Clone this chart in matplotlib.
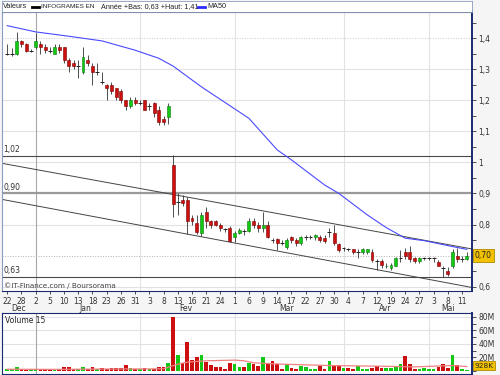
import numpy as np
import matplotlib
matplotlib.use("Agg")
import matplotlib.pyplot as plt
import matplotlib.transforms as mtransforms

plt.rcParams['font.family'] = ['DejaVu Sans']

# ---- donnees (index = seance) ----
opens = [1.35, 1.35, 1.35, 1.39, 1.38, 1.36, 1.37, 1.38, 1.37, 1.36,
         1.35, 1.37, 1.37, 1.33, 1.32, 1.31, 1.29, 1.33, 1.31, 1.29,
         1.26, 1.25, 1.25, 1.24, 1.23, 1.20, 1.18, 1.20, 1.19, 1.20,
         1.18, 1.19, 1.17, 1.14, 1.147, 0.99, 0.873, 0.88, 0.88, 0.82,
         0.805, 0.772, 0.84, 0.81, 0.81, 0.80, 0.785, 0.79, 0.761, 0.772,
         0.78, 0.78, 0.81, 0.80, 0.79, 0.80, 0.75, 0.752, 0.74, 0.729,
         0.759, 0.75, 0.74, 0.759, 0.759, 0.759, 0.759, 0.756, 0.775, 0.772,
         0.737, 0.723, 0.72, 0.72, 0.711, 0.711, 0.711, 0.711, 0.681, 0.681,
         0.665, 0.66, 0.668, 0.691, 0.711, 0.711, 0.691, 0.684, 0.691, 0.691,
         0.691, 0.678, 0.659, 0.65, 0.668, 0.70, 0.69, 0.689]
highs = [1.38, 1.367, 1.42, 1.395, 1.385, 1.365, 1.415, 1.39, 1.38, 1.37,
         1.38, 1.38, 1.372, 1.335, 1.33, 1.33, 1.372, 1.345, 1.32, 1.32,
         1.29, 1.252, 1.26, 1.24, 1.235, 1.20, 1.21, 1.21, 1.20, 1.20,
         1.19, 1.195, 1.18, 1.15, 1.19, 1.025, 0.90, 0.895, 0.89, 0.83,
         0.83, 0.84, 0.855, 0.815, 0.815, 0.805, 0.79, 0.795, 0.78, 0.79,
         0.785, 0.82, 0.82, 0.808, 0.84, 0.81, 0.755, 0.757, 0.75, 0.757,
         0.762, 0.758, 0.762, 0.765, 0.765, 0.77, 0.765, 0.765, 0.79, 0.80,
         0.74, 0.728, 0.725, 0.722, 0.72, 0.725, 0.722, 0.72, 0.69, 0.69,
         0.675, 0.675, 0.695, 0.718, 0.725, 0.73, 0.695, 0.695, 0.697, 0.697,
         0.697, 0.685, 0.668, 0.662, 0.72, 0.725, 0.70, 0.71]
lows = [1.345, 1.342, 1.345, 1.37, 1.355, 1.355, 1.365, 1.35, 1.351, 1.351,
        1.348, 1.351, 1.32, 1.29, 1.30, 1.27, 1.285, 1.31, 1.25, 1.28,
        1.252, 1.20, 1.22, 1.20, 1.19, 1.17, 1.175, 1.185, 1.185, 1.168,
        1.17, 1.147, 1.12, 1.12, 1.123, 0.825, 0.83, 0.86, 0.77, 0.80,
        0.77, 0.763, 0.79, 0.79, 0.795, 0.78, 0.775, 0.745, 0.745, 0.768,
        0.765, 0.775, 0.79, 0.775, 0.775, 0.755, 0.74, 0.718, 0.735, 0.72,
        0.742, 0.73, 0.735, 0.75, 0.752, 0.75, 0.745, 0.74, 0.76, 0.734,
        0.71, 0.715, 0.715, 0.705, 0.691, 0.705, 0.705, 0.68, 0.654, 0.66,
        0.66, 0.655, 0.665, 0.68, 0.69, 0.68, 0.675, 0.675, 0.685, 0.685,
        0.68, 0.665, 0.632, 0.635, 0.66, 0.68, 0.68, 0.685]
closes = [1.35, 1.35, 1.39, 1.38, 1.36, 1.36, 1.39, 1.372, 1.361, 1.36,
          1.37, 1.361, 1.33, 1.31, 1.31, 1.31, 1.34, 1.32, 1.29, 1.29,
          1.26, 1.24, 1.23, 1.21, 1.20, 1.18, 1.20, 1.19, 1.19, 1.17,
          1.18, 1.16, 1.13, 1.13, 1.18, 0.865, 0.873, 0.87, 0.81, 0.81,
          0.777, 0.831, 0.81, 0.80, 0.80, 0.79, 0.785, 0.748, 0.772, 0.783,
          0.78, 0.81, 0.80, 0.79, 0.80, 0.76, 0.75, 0.742, 0.74, 0.75,
          0.75, 0.742, 0.759, 0.759, 0.759, 0.766, 0.75, 0.747, 0.775, 0.74,
          0.718, 0.723, 0.72, 0.711, 0.711, 0.72, 0.72, 0.686, 0.681, 0.67,
          0.668, 0.67, 0.691, 0.691, 0.70, 0.689, 0.681, 0.691, 0.691, 0.691,
          0.691, 0.668, 0.659, 0.64, 0.711, 0.689, 0.69, 0.70]
volumes = [2.2, 2.2, 5.2, 3.0, 1.2, 2.2, 2.2, 2.2, 2.2, 2.2,
           2.2, 1.2, 5.2, 5.2, 2.2, 3.2, 6.1, 2.2, 5.2, 2.2,
           3.7, 2.2, 4.2, 4.2, 4.2, 9.1, 3.7, 2.2, 2.2, 3.7,
           3.2, 2.2, 5.2, 6.1, 11.1, 79, 23, 11, 43, 16,
           21, 23, 13, 9.1, 6, 5.2, 3.2, 11, 10.5, 6,
           5.2, 11, 10, 7.1, 20, 12, 14.5, 10.5, 3.2, 10,
           4.2, 3, 7.5, 6, 3.2, 3.2, 7, 3.2, 14.5, 6.6,
           8, 5, 4, 3, 8, 2.2, 3.2, 4, 7, 5,
           5, 5, 6, 10, 22, 10.5, 3.2, 3, 3.7, 2.2,
           2.2, 5.6, 10, 5, 23, 9, 3, 0.93]

# moyenne mobile 50 (points lus le long de la courbe bleue)
ma50_idx = [0, 6, 13, 20, 27, 32, 35, 41, 51, 57, 60, 67, 70, 76, 80, 84, 88, 94, 97]
ma50_val = [1.44, 1.42, 1.406, 1.391, 1.361, 1.335, 1.31, 1.243, 1.142, 1.04,
            1.008, 0.927, 0.90, 0.831, 0.79, 0.756, 0.748, 0.729, 0.72]

# moyenne du volume sur 15 seances (courbe rouge du bas)
vma_idx = [0, 10, 20, 30, 33, 36, 38, 42, 48, 50, 52, 58, 68, 79, 86, 94, 97]
vma_val = [2.5, 2.3, 2.8, 3.0, 3.2, 10, 13, 15, 16, 15, 12, 10, 8, 7, 6, 8, 6.5]

# canal baissier et niveaux horizontaux
chan_idx = [-1.5, 98.2]
chan_up = [0.998, 0.721]
chan_low = [0.882, 0.597]
levels = [1.02, 0.90, 0.63]
level_labels = ['1,02', '0,90', '0,63']

date_labels = ['22', '28', '2', '5', '10', '13', '18', '23', '26', '31', '3', '8', '13',
               '16', '21', '24', '1', '6', '9', '14', '17', '22', '27', '30', '4', '7',
               '12', '19', '24', '27', '3', '8', '11']
months = ['Dec', 'Jan', 'Fev', 'Mar', 'Avr', 'Mai']
month_mid = [2.3, 16.5, 37.6, 59, 79.7, 93]
month_start = [6, 28, 48, 71, 89]

n = len(closes)
x = np.arange(n)
o = np.array(opens); c = np.array(closes)
h = np.array(highs); l = np.array(lows)

UP, DOWN = '#12c812', '#cc1010'
up = c > o
flat = np.isclose(c, o)
prev = np.r_[c[0], c[:-1]]
up_vol = np.where(flat, c >= prev, up)

NAVY = '#1b2a6e'
W, H = 500, 375


def px(x0, y0, x1, y1):
    return [x0 / W, 1 - y1 / H, (x1 - x0) / W, (y1 - y0) / H]


fig = plt.figure(figsize=(5, 3.75), dpi=100, facecolor='#f5f5f5')

# ---- panneau principal ----
ax = fig.add_axes(px(2, 12, 472, 291))
ax.set_facecolor('white')
ax.set_xlim(-1.1, 98.1)
ax.set_ylim(0.586, 1.484)

yt = np.round(np.arange(0.6, 1.45, 0.1), 2)
for v in yt:
    if v in (0.7, 1.4):
        continue
    ax.axhline(v, color='#e2e2e2', lw=0.8, zorder=0)
ax.axhline(1.4, color='#c8c8c8', lw=0.7, ls=':', zorder=0)
ax.axhline(closes[-1], color='#b0b0b0', lw=0.7, ls=':', zorder=0)
for k, m in enumerate(month_start):
    ax.axvline(m, color='#a8a8a8' if k == 0 else '#e2e2e2', lw=0.8, zorder=0)

for v, lab in zip(levels, level_labels):
    if v == 0.90:
        ax.axhline(v, color='#9a9a9a', lw=1.6, zorder=1)
    else:
        ax.axhline(v, color='#4a4a4a', lw=0.8, zorder=1)
    ax.text(-0.8, v + 0.006, lab, fontsize=5.5, color='#333333', va='bottom', ha='left')

ax.plot(chan_idx, chan_up, color='#444444', lw=0.7, zorder=1)
ax.plot(chan_idx, chan_low, color='#444444', lw=0.7, zorder=1)
ax.plot(ma50_idx, ma50_val, color='#4a4aff', lw=0.8, zorder=2)

# bougies
ax.vlines(x, l, h, color='#333333', lw=0.6, zorder=3)
body = np.where(flat, 0, c - o)
cols = np.where(up, UP, DOWN)
edge = np.where(up, '#0a7a0a', '#7a0000')
m = ~flat
ax.bar(x[m], body[m], bottom=o[m], width=0.62, color=cols[m], edgecolor=edge[m],
       linewidth=0.4, zorder=4)
ax.hlines(c[flat], x[flat] - 0.4, x[flat] + 0.4, color='#222222', lw=0.7, zorder=4)

ax.yaxis.tick_right()
ax.set_yticks(yt)
# le "0,7" est cache par l'etiquette du dernier cours
ax.set_yticklabels(['' if v == 0.7 else ('%g' % v).replace('.', ',') for v in yt])
ax.set_yticks(np.round(np.arange(0.65, 1.46, 0.1), 2), minor=True)
ax.tick_params(axis='y', which='both', direction='out', length=3, width=0.6,
               labelsize=5.5, colors='#333333', pad=1.5)
ax.set_xticks(np.arange(0, n, 3)[:len(date_labels)])
ax.set_xticklabels(date_labels)
ax.tick_params(axis='x', direction='out', length=2.5, width=0.6, labelsize=5.5,
               colors='#333333', pad=1.5)
trans = mtransforms.blended_transform_factory(ax.transData, ax.transAxes)
for mo, pos in zip(months, month_mid):
    ax.text(pos, -0.064, mo, transform=trans, fontsize=5.5, color='#333333',
            ha='center', va='center')
for s in ax.spines.values():
    s.set_color(NAVY)
    s.set_linewidth(0.8)
ax.spines['right'].set_linewidth(1.4)
ax.spines['top'].set_color('#555555')
ax.spines['left'].set_color('#8a9ac0')

ax.text(0.004, 0.008, '\u00a9IT-Finance.com / Boursorama', transform=ax.transAxes,
        fontsize=5.2, color='#444444', ha='left', va='bottom')
ax.text(1.006, closes[-1], ('%.2f' % closes[-1]).replace('.', ','),
        transform=mtransforms.blended_transform_factory(ax.transAxes, ax.transData),
        fontsize=5.5, color='#222222', ha='left', va='center', clip_on=False, zorder=10,
        bbox=dict(boxstyle='square,pad=0.25', fc='#f2c200', ec='#b08a00', lw=0.6))

# ---- volume ----
vax = fig.add_axes(px(2, 313, 472, 374))
vax.set_facecolor('white')
vax.set_xlim(-1.1, 98.1)
vax.set_ylim(-4.5, 85.5)
for v in [20, 40, 60, 80]:
    vax.axhline(v, color='#e2e2e2', lw=0.8, zorder=0)
for k, mm in enumerate(month_start):
    vax.axvline(mm, color='#a8a8a8' if k == 0 else '#e2e2e2', lw=0.8, zorder=0)
vax.bar(x, volumes, width=0.78, color=np.where(up_vol, UP, DOWN), zorder=2)
vax.plot(vma_idx, vma_val, color='#f08080', lw=0.9, zorder=3)
vax.yaxis.tick_right()
vax.set_yticks([0, 20, 40, 60, 80])
# le "0" est cache par l'etiquette du dernier volume
vax.set_yticklabels(['', '20M', '40M', '60M', '80M'])
vax.set_yticks([10, 30, 50, 70], minor=True)
vax.tick_params(axis='y', which='both', direction='out', length=3, width=0.6,
                labelsize=5.5, colors='#333333', pad=1.5)
vax.set_xticks([])
for s in vax.spines.values():
    s.set_color(NAVY)
    s.set_linewidth(0.8)
vax.spines['right'].set_linewidth(1.4)
vax.text(0.006, 0.95, 'Volume 15', transform=vax.transAxes, fontsize=5.5,
         color='#222222', ha='left', va='top')
vax.text(1.006, volumes[-1] + 2, '928K',
         transform=mtransforms.blended_transform_factory(vax.transAxes, vax.transData),
         fontsize=5.3, color='#222222', ha='left', va='bottom', clip_on=False, zorder=10,
         bbox=dict(boxstyle='square,pad=0.2', fc='#f2c200', ec='#b08a00', lw=0.6))

# ---- bandeau legende ----
hax = fig.add_axes(px(2, 1, 472, 12))
hax.set_xlim(2, 472)
hax.set_ylim(12, 1)
hax.set_xticks([]); hax.set_yticks([])
hax.set_facecolor('white')
for s in hax.spines.values():
    s.set_color('#8a9ac0')
    s.set_linewidth(0.6)
hfont = dict(fontsize=5.2, va='center', color='#222222', family='Liberation Sans')
hax.text(3, 6.5, 'Valeurs', **hfont)
hax.plot([32, 39], [6.5, 6.5], color='black', lw=2)
hax.text(41, 6.5, 'INFOGRAMES EN', **{**hfont, 'fontsize': 4.6})
hax.text(101, 6.5, 'Ann\u00e9e +Bas: 0,63 +Haut: 1,41', **hfont)
hax.plot([198, 205], [6.5, 6.5], color='#2a2aff', lw=2)
hax.text(207, 6.5, 'MA50', **hfont)

fig.savefig('out.png', dpi=100, facecolor=fig.get_facecolor())
